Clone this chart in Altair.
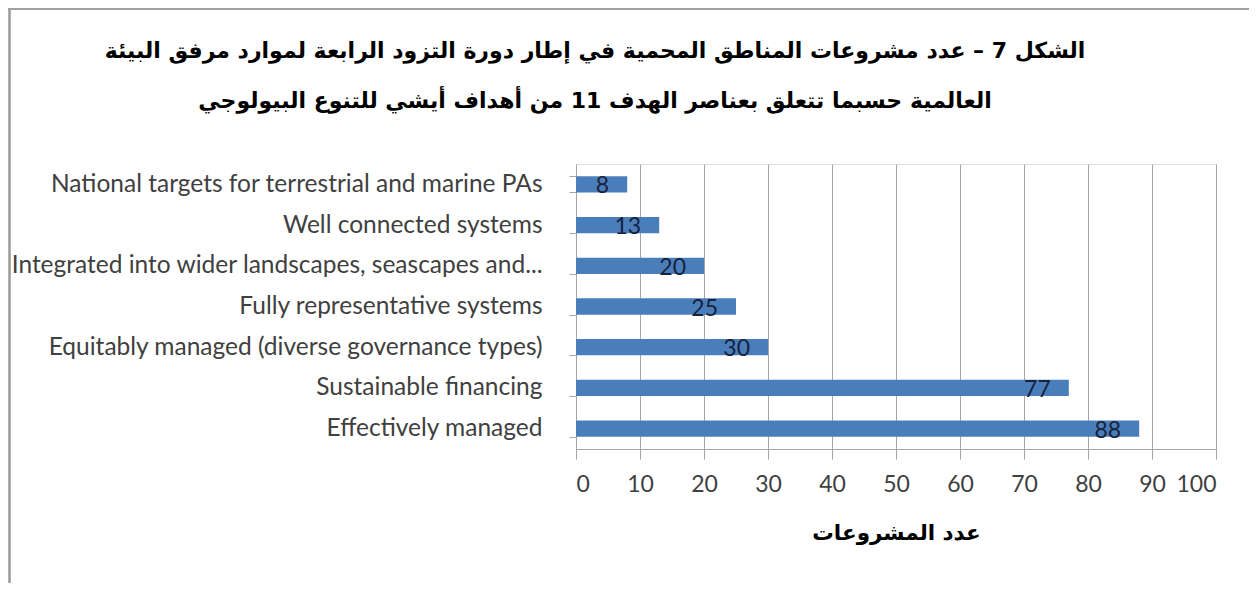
import altair as alt
import pandas as pd

categories = [
    "National targets for terrestrial and marine PAs",
    "Well connected systems",
    "Integrated into wider landscapes, seascapes and...",
    "Fully representative systems",
    "Equitably managed (diverse governance types)",
    "Sustainable financing",
    "Effectively managed",
]
projects = [8, 13, 20, 25, 30, 77, 88]
x_ticks = [0, 10, 20, 30, 40, 50, 60, 70, 80, 90, 100]
title_lines = [
    "الشكل 7 – عدد مشروعات المناطق المحمية في إطار دورة التزود الرابعة لموارد مرفق البيئة",
    "العالمية حسبما تتعلق بعناصر الهدف 11 من أهداف أيشي للتنوع البيولوجي",
]
x_title = "عدد المشروعات"

RLE, PDF = "\u202b", "\u202c"
title_text = [RLE + t + PDF for t in title_lines]

df = pd.DataFrame({"element": categories, "projects": projects})

GRID = "#a6a6a6"

y_enc = alt.Y(
    "element:N",
    sort=categories,
    title=None,
    scale=alt.Scale(paddingInner=0.6, paddingOuter=0.3),
    axis=alt.Axis(
        tickBand="extent",
        tickSize=7,
        tickColor=GRID,
        domainColor=GRID,
        labelFont="Lato",
        labelFontSize=24.5,
        labelColor="#404040",
        labelPadding=27,
        labelLimit=700,
        grid=False,
    ),
)
x_enc = alt.X(
    "projects:Q",
    scale=alt.Scale(domain=[0, 100], nice=False),
    axis=alt.Axis(
        values=x_ticks,
        title=x_title,
        grid=True,
        gridColor=GRID,
        tickSize=10,
        tickColor=GRID,
        domainColor=GRID,
        labelFont="Lato",
        labelFontSize=23,
        labelColor="#404040",
        labelPadding=14,
        titleFont="DejaVu Sans",
        titleFontSize=21.5,
        titleFontWeight="bold",
        titleColor="black",
        titlePadding=26,
    ),
)

base = alt.Chart(df)
bars = base.mark_bar(color="#4a7ebb").encode(x=x_enc, y=y_enc)
labels = base.mark_text(
    align="right", baseline="middle", dx=-18, dy=2,
    font="Lato", fontSize=23, color="#17233d",
).encode(x="projects:Q", y=alt.Y("element:N", sort=categories), text="projects:Q")

frame_df = pd.DataFrame({"k": [0]})
left_frame = alt.Chart(frame_df).mark_rule(color="#9a9a9a", strokeWidth=2.5).encode(
    x=alt.value(-566.5), y=alt.value(-156), y2=alt.value(419)
)
top_frame = alt.Chart(frame_df).mark_rule(color="#a0a0a0", strokeWidth=2).encode(
    x=alt.value(-568), x2=alt.value(673), y=alt.value(-155)
)

chart = (
    alt.layer(bars, labels, left_frame, top_frame)
    .properties(
        width=640,
        height=285,
        autosize=alt.AutoSizeParams(type="none"),
        padding={"left": 568, "top": 156, "right": 33, "bottom": 134},
        title=alt.TitleParams(
            text=title_text,
            font="DejaVu Sans",
            fontSize=22,
            fontWeight="bold",
            color="black",
            anchor="middle",
            frame="group",
            baseline="alphabetic",
            dx=-301,
            dy=123,
            offset=0,
            lineHeight=50,
        ),
    )
    .configure_view(stroke=None)
    .configure(background="white")
)

chart.save("out.html", embed_options={"renderer": "svg", "actions": False})
